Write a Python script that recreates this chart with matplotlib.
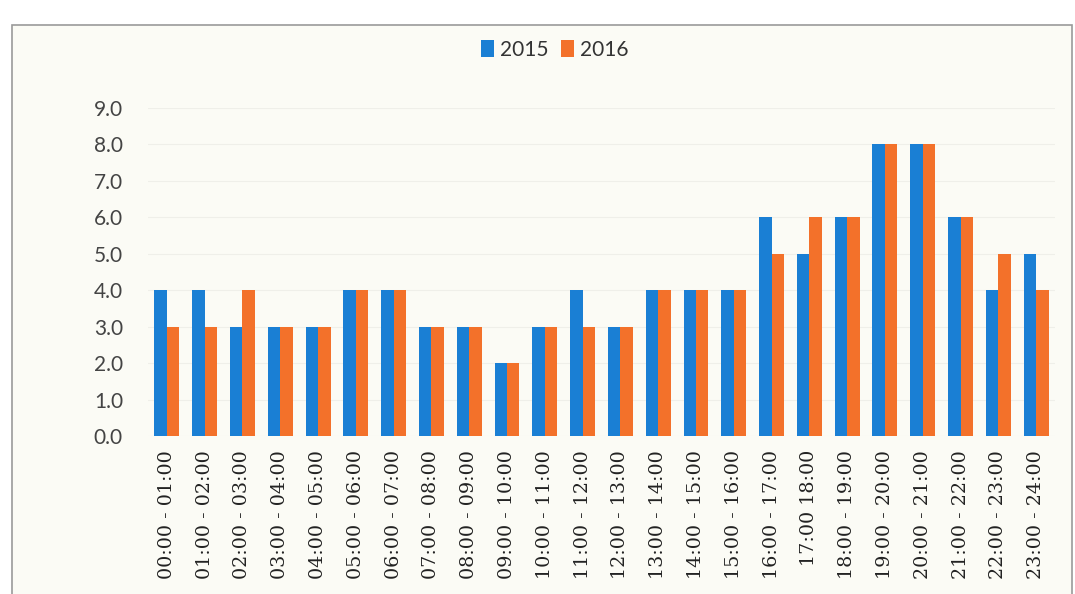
import matplotlib.pyplot as plt
import matplotlib.patches as mpatches
import numpy as np

# hourly slots and counts per year
slots = ["00:00 - 01:00", "01:00 - 02:00", "02:00 - 03:00", "03:00 - 04:00",
         "04:00 - 05:00", "05:00 - 06:00", "06:00 - 07:00", "07:00 - 08:00",
         "08:00 - 09:00", "09:00 - 10:00", "10:00 - 11:00", "11:00 - 12:00",
         "12:00 - 13:00", "13:00 - 14:00", "14:00 - 15:00", "15:00 - 16:00",
         "16:00 - 17:00", "17:00 18:00", "18:00 - 19:00", "19:00 - 20:00",
         "20:00 - 21:00", "21:00 - 22:00", "22:00 - 23:00", "23:00 - 24:00"]
vals_2015 = [4, 4, 3, 3, 3, 4, 4, 3, 3, 2, 3, 4, 3, 4, 4, 4, 6, 5, 6, 8, 8, 6, 4, 5]
vals_2016 = [3, 3, 4, 3, 3, 4, 4, 3, 3, 2, 3, 3, 3, 4, 4, 4, 5, 6, 6, 8, 8, 6, 5, 4]
yticks = np.arange(0, 10, 1)

blue = "#1a7fd4"
orange = "#f3712a"
bg = "#fbfbf5"

plt.rcParams['font.family'] = ['Lato', 'DejaVu Sans']

fig = plt.figure(figsize=(10.75, 5.94), dpi=100)
fig.patch.set_facecolor("white")

# chart frame like the scanned page
frame = mpatches.Rectangle((12 / 1075, -0.05), 1060 / 1075, 1 - 25 / 594 + 0.05,
                           transform=fig.transFigure, facecolor=bg,
                           edgecolor="#9a9a9a", linewidth=1.2, zorder=-10)
fig.patches.append(frame)

ax = fig.add_axes([148 / 1075, 1 - 436 / 594, 907 / 1075, 328 / 594])
ax.set_facecolor("none")

x = np.arange(len(slots))
w = 0.33
ax.bar(x - w / 2, vals_2015, width=w, color=blue, label="2015", zorder=3)
ax.bar(x + w / 2, vals_2016, width=w, color=orange, label="2016", zorder=3)

ax.set_xlim(-0.5, len(slots) - 0.5)
ax.set_ylim(0, 9)
ax.set_yticks(yticks)
ax.set_yticklabels([f"{v:.1f}" for v in yticks], fontsize=15, color="#444444")
ax.set_xticks(x)
ax.set_xticklabels(slots, rotation=90, fontsize=13.8, color="#222222",
                   family="DejaVu Serif")
ax.tick_params(axis="both", length=0)
ax.tick_params(axis="y", pad=18)
ax.tick_params(axis="x", pad=10)
ax.grid(axis="y", color="#efefe9", linewidth=0.8, zorder=0)
for s in ax.spines.values():
    s.set_visible(False)

fig.legend(loc="center", bbox_to_anchor=(555 / 1075, 1 - 50 / 594), ncol=2,
           frameon=False, fontsize=15, handlelength=0.6, handleheight=0.9,
           handletextpad=0.3, columnspacing=0.6, labelcolor="#333333")

plt.savefig("out.png", dpi=100, facecolor=fig.get_facecolor())
